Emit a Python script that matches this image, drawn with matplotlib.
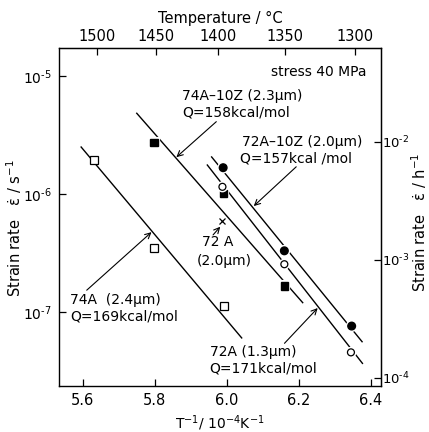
import numpy as np
import matplotlib.pyplot as plt
import matplotlib.patheffects as pe
from matplotlib.ticker import NullLocator, FixedLocator

# inverse temperature (1e-4 K^-1) and creep strain rate (s^-1), stress 40 MPa
x_74a = [5.632, 5.798, 5.991]
rate_74a = [1.94e-6, 3.47e-7, 1.12e-7]
x_74a10z = [5.798, 5.990, 6.160]
rate_74a10z = [2.72e-6, 1.01e-6, 1.66e-7]
x_72a13 = [5.988, 6.160, 6.345]
rate_72a13 = [1.15e-6, 2.54e-7, 4.55e-8]
x_72a10z = [5.990, 6.160, 6.347]
rate_72a10z = [1.67e-6, 3.30e-7, 7.6e-8]
x_72a20 = [5.988]
rate_72a20 = [5.9e-7]

# fitted Arrhenius lines (start/end)
fit_x_74a = [5.5955, 6.0415]
fit_r_74a = [2.50e-6, 6.03e-8]
fit_x_74a10z = [5.750, 6.211]
fit_r_74a10z = [4.83e-6, 1.20e-7]
fit_x_72a13 = [5.946, 6.377]
fit_r_72a13 = [1.76e-6, 3.67e-8]
fit_x_72a10z = [5.958, 6.376]
fit_r_72a10z = [2.06e-6, 5.60e-8]

temp_ticks = [1300, 1350, 1400, 1450, 1500]
rate_s_ticks = [1e-7, 1e-6, 1e-5]
rate_s_labels = ['10$^{\\text{-}7}$', '10$^{\\text{-}6}$', '10$^{\\text{-}5}$']
rate_h_ticks = [1e-4, 1e-3, 1e-2]
rate_h_labels = ['10$^{\\text{-}4}$', '10$^{\\text{-}3}$', '10$^{\\text{-}2}$']

plt.rcParams['font.family'] = 'DejaVu Sans'
plt.rcParams['mathtext.default'] = 'regular'

fig = plt.figure(figsize=(4.29, 4.32), dpi=100)
ax = fig.add_axes([59/429, 46/432, 322/429, 338/432])
ax.set_yscale('log')
ax.set_xlim(5.534, 6.4285)
ax.set_ylim(10**-7.627, 10**-4.763)

lw = 1.0
for fx, fr in [(fit_x_74a, fit_r_74a), (fit_x_74a10z, fit_r_74a10z),
               (fit_x_72a13, fit_r_72a13), (fit_x_72a10z, fit_r_72a10z)]:
    ax.plot(fx, fr, color='black', lw=lw, zorder=2)

halo = [pe.withStroke(linewidth=3, foreground='white')]
ax.plot(x_74a, rate_74a, ls='none', marker='s', ms=5.2, mfc='white', mec='black', mew=0.9, zorder=3)
ax.plot(x_74a10z, rate_74a10z, ls='none', marker='s', ms=5.2, mfc='black', mec='black',
        zorder=3, path_effects=halo)
ax.plot(x_72a13, rate_72a13, ls='none', marker='o', ms=5, mfc='white', mec='black', mew=0.9,
        zorder=3, path_effects=halo)
ax.plot(x_72a10z, rate_72a10z, ls='none', marker='o', ms=5.5, mfc='black', mec='black',
        zorder=3, path_effects=halo)
ax.plot(x_72a20, rate_72a20, ls='none', marker='x', ms=4.5, mec='black', mew=0.9, zorder=3)

fs = 10
arrow = dict(arrowstyle='->', color='black', lw=0.8, shrinkA=0, shrinkB=0)

ax.text(6.3876, 1.08e-5, 'stress 40 MPa', ha='right', va='center', fontsize=fs)

ax.text(5.875, 6.77e-6, '74A–10Z (2.3μm)', ha='left', va='center', fontsize=fs)
ax.text(5.875, 4.95e-6, 'Q=158kcal/mol', ha='left', va='center', fontsize=fs)
ax.annotate('', xy=(5.860, 2.05e-6), xytext=(5.971, 4.10e-6), arrowprops=arrow)

ax.text(6.041, 2.76e-6, '72A–10Z (2.0μm)', ha='left', va='center', fontsize=fs)
ax.text(6.036, 1.98e-6, 'Q=157kcal /mol', ha='left', va='center', fontsize=fs)
ax.annotate('', xy=(6.075, 7.9e-7), xytext=(6.193, 1.70e-6), arrowprops=arrow)

ax.text(5.930, 3.92e-7, '72 A', ha='left', va='center', fontsize=fs)
ax.text(5.917, 2.70e-7, '(2.0μm)', ha='left', va='center', fontsize=fs)
ax.annotate('', xy=(5.982, 5.28e-7), xytext=(5.962, 4.50e-7), arrowprops=arrow)

ax.text(5.565, 1.26e-7, '74A  (2.4μm)', ha='left', va='center', fontsize=fs)
ax.text(5.565, 9.08e-8, 'Q=169kcal/mol', ha='left', va='center', fontsize=fs)
ax.annotate('', xy=(5.791, 4.75e-7), xytext=(5.611, 1.53e-7), arrowprops=arrow)

ax.text(5.9526, 4.58e-8, '72A (1.3μm)', ha='left', va='center', fontsize=fs)
ax.text(5.9526, 3.35e-8, 'Q=171kcal/mol', ha='left', va='center', fontsize=fs)
ax.annotate('', xy=(6.2526, 1.08e-7), xytext=(6.1604, 5.43e-8), arrowprops=arrow)

# bottom / left axes
ax.set_xticks([5.6, 5.8, 6.0, 6.2, 6.4])
ax.set_xticklabels(['5.6', '5.8', '6.0', '6.2', '6.4'])
ax.yaxis.set_major_locator(FixedLocator(rate_s_ticks))
ax.yaxis.set_minor_locator(NullLocator())
ax.set_yticklabels(rate_s_labels)
ax.tick_params(direction='in', length=5, width=0.9, labelsize=fs + 0.5, pad=5)
ax.tick_params(axis='y', labelsize=fs, pad=5)
ax.set_xlabel('T$^{-1}$/ 10$^{-4}$K$^{-1}$', fontsize=fs, labelpad=4)
for s in ax.spines.values():
    s.set_linewidth(1.0)

# axis titles for the strain rate, placed by hand
fig.text(14/429, 1 - 228/432, 'Strain rate   ε\u0307 / s$^{-1}$', rotation=90,
         ha='center', va='center', fontsize=fs + 0.5)
fig.text(419/429, 1 - 222/432, 'Strain rate   ε\u0307 / h$^{-1}$', rotation=90,
         ha='center', va='center', fontsize=fs + 0.5)

# top axis: temperature in degC
top = ax.secondary_xaxis('top', functions=(lambda x: 1e4 / x - 273.15,
                                           lambda t: 1e4 / (t + 273.15)))
top.set_xticks(temp_ticks)
top.set_xticklabels([str(t) for t in temp_ticks])
top.xaxis.set_minor_locator(NullLocator())
top.tick_params(direction='in', length=5, width=0.9, labelsize=fs + 0.5, pad=3)
top.set_xlabel('Temperature / °C', fontsize=fs + 0.5, labelpad=4)

# right axis: strain rate per hour
right = ax.secondary_yaxis('right', functions=(lambda r: r * 3600, lambda r: r / 3600))
right.set_yticks(rate_h_ticks)
right.set_yticklabels(rate_h_labels)
right.yaxis.set_minor_locator(NullLocator())
right.tick_params(direction='in', length=5, width=0.9, labelsize=fs - 0.5, pad=1)

fig.savefig('out.png', dpi=100)
